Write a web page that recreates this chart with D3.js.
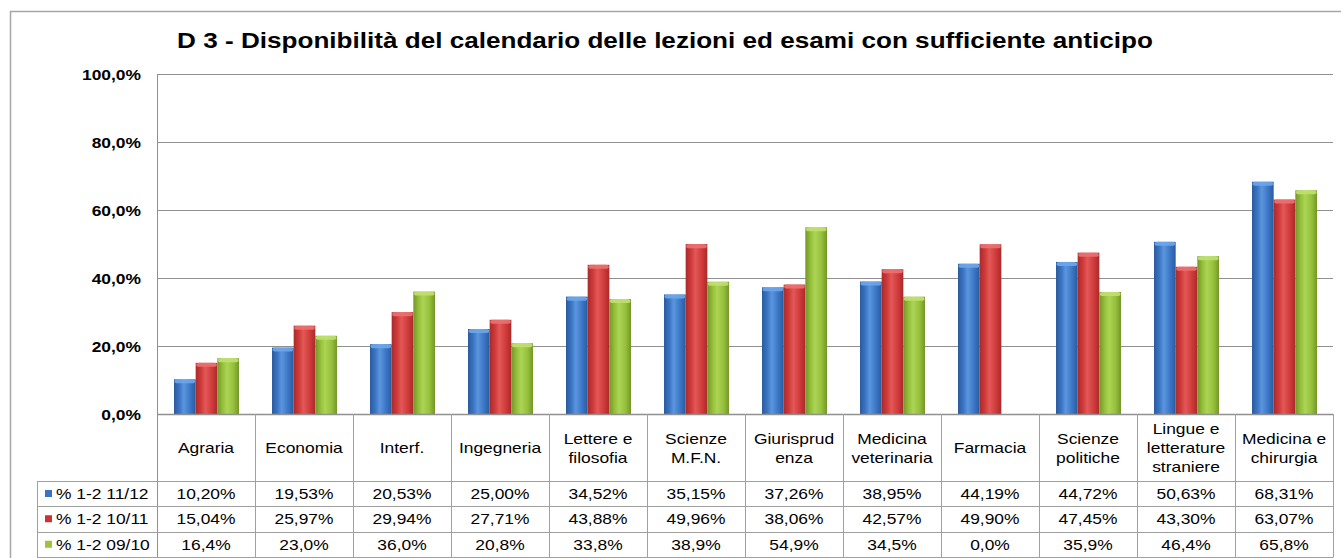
<!DOCTYPE html>
<html><head><meta charset="utf-8">
<script src="https://cdn.jsdelivr.net/npm/d3@7"></script>
<style>
html,body{margin:0;padding:0;background:#fff;}
svg{display:block;}
text{font-family:"Liberation Sans",Arial,sans-serif;fill:#000;}
</style></head>
<body>
<svg id="chart" width="1341" height="558"></svg>
<script>
const title = "D 3 - Disponibilità del calendario delle lezioni ed esami con sufficiente anticipo";
const categories = ["Agraria","Economia","Interf.","Ingegneria","Lettere e filosofia","Scienze M.F.N.","Giurisprudenza","Medicina veterinaria","Farmacia","Scienze politiche","Lingue e letterature straniere","Medicina e chirurgia"];
const categoryLines = [["Agraria"],["Economia"],["Interf."],["Ingegneria"],["Lettere e","filosofia"],["Scienze","M.F.N."],["Giurisprud","enza"],["Medicina","veterinaria"],["Farmacia"],["Scienze","politiche"],["Lingue e","letterature","straniere"],["Medicina e","chirurgia"]];
const seriesNames = ["% 1-2 11/12","% 1-2 10/11","% 1-2 09/10"];
const s1112 = [10.20,19.53,20.53,25.00,34.52,35.15,37.26,38.95,44.19,44.72,50.63,68.31];
const s1011 = [15.04,25.97,29.94,27.71,43.88,49.96,38.06,42.57,49.90,47.45,43.30,63.07];
const s0910 = [16.4,23.0,36.0,20.8,33.8,38.9,54.9,34.5,0.0,35.9,46.4,65.8];
const seriesDecimals = [2,2,1];
const yTicks = [0,20,40,60,80,100];

const series = [s1112, s1011, s0910];
const colors = [
  {base:"#3a76c4", light:"#5b95de", dark:"#2a5a9c", cap:"#6ea6ea"},
  {base:"#d03a3a", light:"#e25858", dark:"#a82a2a", cap:"#ec7070"},
  {base:"#96c03a", light:"#acd456", dark:"#74962a", cap:"#c0e070"}
];
const SX = 1.16;
const svg = d3.select("#chart");
const L = 157, R = 1333, T = 74, B = 414;
const tableLeft = 37;
const rowY = [414, 481, 506, 531.5, 557];

const x0 = d3.scaleBand().domain(categories).range([L, R]).padding(0);
const x1 = d3.scaleBand().domain([0,1,2]).range([17, 82]).padding(0);
const y = d3.scaleLinear().domain([0,100]).range([B, T]);

const defs = svg.append("defs");
colors.forEach((c,i)=>{
  const g = defs.append("linearGradient").attr("id","g"+i).attr("x1","0").attr("x2","1").attr("y1","0").attr("y2","0");
  g.append("stop").attr("offset","0").attr("stop-color",c.dark);
  g.append("stop").attr("offset","0.25").attr("stop-color",c.base);
  g.append("stop").attr("offset","0.45").attr("stop-color",c.light);
  g.append("stop").attr("offset","0.75").attr("stop-color",c.base);
  g.append("stop").attr("offset","1").attr("stop-color",c.dark);
});

function stext(parent, x, yy, str, opts) {
  const g = parent.append("g").attr("transform", `translate(${x},${yy}) scale(${SX},1)`);
  return g.append("text").attr("x",0).attr("y",0).text(str)
    .attr("font-size", opts.size).attr("text-anchor", opts.anchor || "start")
    .attr("font-weight", opts.weight || "normal");
}

svg.append("rect").attr("x",10.5).attr("y",11.5).attr("width",1400).attr("height",600)
  .attr("fill","none").attr("stroke","#a6a6a6").attr("stroke-width",1.5);

stext(svg, 665, 47.5, title, {size:22.5, anchor:"middle", weight:"bold"});

svg.append("g").selectAll("line").data(yTicks.filter(d=>d>0)).join("line")
  .attr("x1",L).attr("x2",R).attr("y1",d=>Math.round(y(d))+0.5).attr("y2",d=>Math.round(y(d))+0.5)
  .attr("stroke","#909090").attr("stroke-width",1);

const fmtTick = d => d.toFixed(1).replace(".",",") + "%";
yTicks.forEach(d=>{
  stext(svg, 141, y(d)+5.5, fmtTick(d), {size:15, anchor:"end", weight:"bold"});
});

svg.append("line").attr("x1",L+0.5).attr("x2",L+0.5).attr("y1",T).attr("y2",557.5)
  .attr("stroke","#909090");

const groups = svg.append("g").selectAll("g").data(categories).join("g")
  .attr("transform", d=>`translate(${x0(d)},0)`);
groups.each(function(cat, ci){
  const g = d3.select(this);
  series.forEach((s, si)=>{
    const v = s[ci];
    if (v <= 0) return;
    const bx = x1(si), bw = x1.bandwidth();
    g.append("rect").attr("x",bx).attr("y",y(v)).attr("width",bw).attr("height",B - y(v))
      .attr("fill",`url(#g${si})`);
    g.append("rect").attr("x",bx+0.5).attr("y",y(v)).attr("width",bw-1).attr("height",Math.min(4,B-y(v)))
      .attr("rx",3).attr("fill",colors[si].cap).attr("opacity",0.9);
  });
});

const tg = svg.append("g").attr("stroke","#a0a0a0").attr("stroke-width",1);
tg.append("line").attr("x1",L).attr("x2",R).attr("y1",B+0.5).attr("y2",B+0.5).attr("stroke","#909090").attr("stroke-width",1.5);
rowY.slice(1).forEach(ry=>{
  tg.append("line").attr("x1",tableLeft).attr("x2",R).attr("y1",Math.round(ry)+0.5).attr("y2",Math.round(ry)+0.5);
});
categories.forEach(c=>{
  const xr = x0(c) + x0.bandwidth();
  tg.append("line").attr("x1",Math.round(xr)+0.5).attr("x2",Math.round(xr)+0.5).attr("y1",B).attr("y2",557.5);
});
tg.append("line").attr("x1",tableLeft+0.5).attr("x2",tableLeft+0.5).attr("y1",rowY[1]).attr("y2",557.5);

const lh = 19;
categories.forEach((c,ci)=>{
  const lines = categoryLines[ci];
  const cx = x0(c) + x0.bandwidth()/2;
  const cy = (rowY[0]+rowY[1])/2;
  const start = cy - (lines.length-1)*lh/2;
  lines.forEach((ln,li)=>{
    stext(svg, cx, start + li*lh + 5.5, ln, {size:15, anchor:"middle"});
  });
});

const legendColors = ["#3a73c0","#c83434","#9cc43c"];
series.forEach((s,si)=>{
  const cy = (rowY[si+1]+rowY[si+2])/2;
  svg.append("rect").attr("x",45).attr("y",cy-3.5).attr("width",7).attr("height",7).attr("fill",legendColors[si]);
  stext(svg, 56, cy+5.5, seriesNames[si], {size:15, anchor:"start"});
  s.forEach((v,ci)=>{
    const cx = x0(categories[ci]) + x0.bandwidth()/2;
    const lbl = v.toFixed(seriesDecimals[si]).replace(".",",") + "%";
    stext(svg, cx, cy+5.5, lbl, {size:15, anchor:"middle"});
  });
});
</script>
</body></html>
